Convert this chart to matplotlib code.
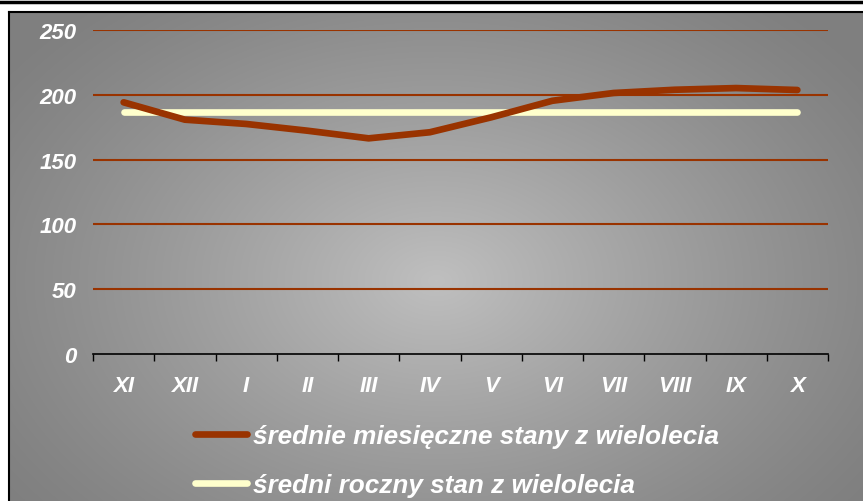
import numpy as np
import matplotlib
matplotlib.use("Agg")
import matplotlib.pyplot as plt
from matplotlib.lines import Line2D

months = ["XI", "XII", "I", "II", "III", "IV", "V", "VI", "VII", "VIII", "IX", "X"]
monthly_mean = [194.2, 180.8, 177.5, 172.3, 166.4, 171.1, 182.6, 195.4, 201.4, 203.9, 205.2, 203.7]
annual_mean = [186.5] * 12
yticks = [0, 50, 100, 150, 200, 250]
label_monthly = "średnie miesięczne stany z wielolecia"
label_annual = "średni roczny stan z wielolecia"

W, H = 863, 502
fig = plt.figure(figsize=(W / 100, H / 100), dpi=100)
fig.patch.set_facecolor("white")

# background box with radial gradient
bx0, by_top = 9, 13
bg = fig.add_axes([bx0 / W, 0, 1 - bx0 / W, 1 - by_top / H])
nx, ny = 427, 245
xx, yy = np.meshgrid(np.linspace(0, 1, nx), np.linspace(0, 1, ny))
r = np.sqrt(((xx - 0.50) / 0.62) ** 2 + ((yy - 0.55) / 0.75) ** 2)
r = np.clip(r, 0, 1)
v = 0.50 + 0.25 * (1 - r) ** 1.2
img = np.dstack([v, v, v])
bg.imshow(img, aspect="auto", extent=[0, 1, 0, 1], origin="upper", interpolation="bilinear")
bg.set_xlim(0, 1)
bg.set_ylim(0, 1)
bg.set_xticks([])
bg.set_yticks([])
for s in ["bottom", "right"]:
    bg.spines[s].set_visible(False)
for s in ["left", "top"]:
    bg.spines[s].set_color("black")
    bg.spines[s].set_linewidth(1.5)

# top black rule
fig.add_artist(Line2D([0, 1], [1 - 2.5 / H, 1 - 2.5 / H], color="black", lw=2.5, transform=fig.transFigure))

# main axes
L, R, T, B = 93, 828, 31, 355
ax = fig.add_axes([L / W, 1 - B / H, (R - L) / W, (B - T) / H])
ax.patch.set_alpha(0)
x = np.arange(len(months))
ax.set_xlim(-0.5, len(months) - 0.5)
ax.set_ylim(0, 250)

for yv in yticks[1:]:
    ax.axhline(yv, color="#993300", lw=1.5, zorder=1)

font = dict(family=["Liberation Sans", "DejaVu Sans"], weight="bold", style="italic")

l1, = ax.plot(x, monthly_mean, color="#993300", lw=4.8, solid_capstyle="round",
              solid_joinstyle="round", zorder=3, label=label_monthly)
l2, = ax.plot(x, annual_mean, color="#FFFFCC", lw=4.8, solid_capstyle="round",
              zorder=2, label=label_annual)

ax.set_yticks(yticks)
ax.set_yticklabels([str(t) for t in yticks], color="white", fontsize=16, **font)
ax.tick_params(axis="y", length=0, pad=12)
ax.set_xticks(np.arange(-0.5, len(months), 1.0))
ax.set_xticklabels([])
ax.set_xticks(x, minor=True)
ax.set_xticklabels(months, minor=True, color="white", fontsize=16, **font)
ax.tick_params(axis="x", which="major", length=5, width=1, color="black", direction="out")
ax.tick_params(axis="x", which="minor", length=0, pad=15)
for s in ["left", "right", "top"]:
    ax.spines[s].set_visible(False)
ax.spines["bottom"].set_color("black")
ax.spines["bottom"].set_linewidth(1.2)

leg = fig.legend(handles=[l1, l2], loc="upper left",
                 bbox_to_anchor=(195 / W, 1 - 425 / H), frameon=False,
                 borderpad=0, borderaxespad=0,
                 prop=dict(family="Liberation Sans", weight="bold", style="italic", size=18.8),
                 labelcolor="white", handlelength=2.0, handletextpad=0.22, labelspacing=0.95)

fig.savefig("out.png", dpi=100)
